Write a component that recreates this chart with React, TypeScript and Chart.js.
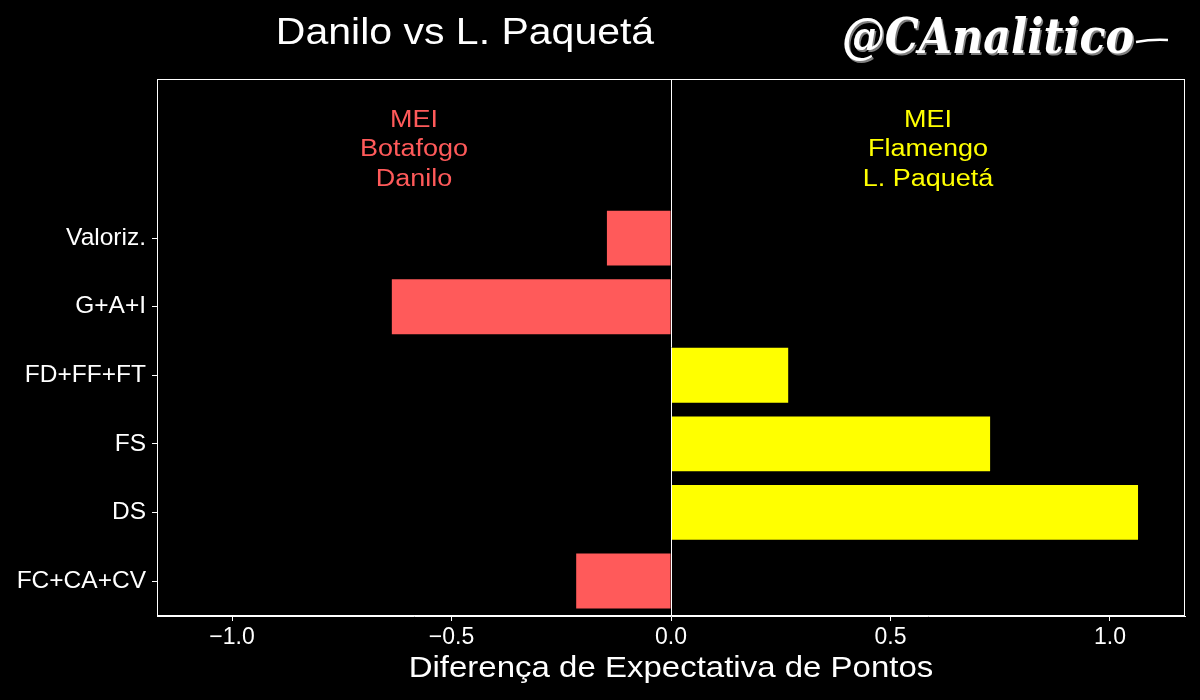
import React, { useEffect, useRef } from "react";
import { Chart, registerables } from "chart.js";

Chart.register(...registerables);

const categories = ["Valoriz.", "G+A+I", "FD+FF+FT", "FS", "DS", "FC+CA+CV"];
const diffValues = [-0.146, -0.636, 0.267, 0.727, 1.064, -0.216];
const xTickValues = [-1.0, -0.5, 0.0, 0.5, 1.0];
const titleText = "Danilo vs L. Paquetá";
const leftLabelLines = ["MEI", "Botafogo", "Danilo"];
const rightLabelLines = ["MEI", "Flamengo", "L. Paquetá"];
const xAxisTitle = "Diferença de Expectativa de Pontos";
const watermarkText = "@CAnalitico";

const X_MIN = -1.171;
const X_MAX = 1.171;
const Y_MIN = -0.51;
const Y_MAX = 7.32;

const RED = "#FF5A5A";
const YELLOW = "#FFFF00";
const FONT = "'Liberation Sans', Arial, sans-serif";

const positionOf = (i: number) => categories.length - 1 - i;

function drawSquished(ctx: CanvasRenderingContext2D, text: string, x: number, y: number, sy: number) {
  ctx.save();
  ctx.translate(x, y);
  ctx.scale(1, sy);
  ctx.fillText(text, 0, 0);
  ctx.restore();
}

const decorPlugin = {
  id: "decor",
  beforeDraw(chart: any) {
    const ctx = chart.ctx as CanvasRenderingContext2D;
    ctx.save();
    ctx.fillStyle = "#000";
    ctx.fillRect(0, 0, chart.width, chart.height);
    ctx.restore();
  },
  afterDatasetsDraw(chart: any) {
    const ctx = chart.ctx as CanvasRenderingContext2D;
    const { left, right, top, bottom } = chart.chartArea;
    const xs = chart.scales.x;
    ctx.save();
    ctx.strokeStyle = "#fff";
    ctx.lineWidth = 1;
    ctx.strokeRect(left + 0.5, top + 0.5, right - left - 1, bottom - top - 1);
    const x0 = Math.round(xs.getPixelForValue(0)) + 0.5;
    ctx.beginPath();
    ctx.moveTo(x0, top);
    ctx.lineTo(x0, bottom);
    ctx.stroke();
    ctx.restore();
  },
  afterDraw(chart: any) {
    const ctx = chart.ctx as CanvasRenderingContext2D;
    const { left, right, top, bottom } = chart.chartArea;
    const xs = chart.scales.x;
    ctx.save();
    ctx.textAlign = "center";
    ctx.textBaseline = "alphabetic";

    ctx.fillStyle = "#fff";
    ctx.font = `41px ${FONT}`;
    drawSquished(ctx, titleText, 465, 44, 0.92);

    ctx.font = `27px ${FONT}`;
    const lx = xs.getPixelForValue(X_MIN / 2);
    const rx = xs.getPixelForValue(X_MAX / 2);
    const baselines = [top + 48, top + 77.3, top + 106.5];
    ctx.fillStyle = RED;
    leftLabelLines.forEach((t, i) => drawSquished(ctx, t, lx, baselines[i], 0.92));
    ctx.fillStyle = YELLOW;
    rightLabelLines.forEach((t, i) => drawSquished(ctx, t, rx, baselines[i], 0.92));

    ctx.fillStyle = "#fff";
    ctx.font = `33px ${FONT}`;
    drawSquished(ctx, xAxisTitle, (left + right) / 2, bottom + 61, 0.92);

    ctx.textAlign = "left";
    ctx.font = `bold italic 48px 'DejaVu Serif', serif`;
    const w = ctx.measureText(watermarkText).width;
    const targetW = 292;
    ctx.save();
    ctx.translate(842, 53);
    ctx.scale(targetW / w, 1);
    ctx.fillStyle = "#fff";
    ctx.shadowColor = "rgba(160,160,160,0.8)";
    ctx.shadowOffsetX = 1.5;
    ctx.shadowOffsetY = 1.5;
    ctx.fillText(watermarkText, 0, 0);
    ctx.restore();
    ctx.strokeStyle = "#fff";
    ctx.lineWidth = 2.5;
    ctx.beginPath();
    ctx.moveTo(1136, 42);
    ctx.quadraticCurveTo(1152, 39, 1168, 40);
    ctx.stroke();

    ctx.restore();
  },
};

export default function App() {
  const canvasRef = useRef<HTMLCanvasElement | null>(null);

  useEffect(() => {
    const canvas = canvasRef.current;
    if (!canvas) return;
    const chart = new Chart(canvas, {
      type: "bar",
      data: {
        datasets: [
          {
            data: diffValues.map((v, i) => ({ x: v, y: positionOf(i) })),
            backgroundColor: diffValues.map((v) => (v < 0 ? RED : YELLOW)),
            borderWidth: 0,
            barPercentage: 0.8,
            categoryPercentage: 1,
          },
        ],
      },
      options: {
        indexAxis: "y",
        animation: false,
        responsive: false,
        maintainAspectRatio: false,
        layout: { padding: { left: 0, right: 15, top: 79, bottom: 0 } },
        plugins: {
          legend: { display: false },
          tooltip: { enabled: false },
          title: { display: false },
        },
        scales: {
          x: {
            type: "linear",
            min: X_MIN,
            max: X_MAX,
            offset: false,
            afterBuildTicks: (s: any) => {
              s.ticks = xTickValues.map((v) => ({ value: v }));
            },
            afterFit: (s: any) => {
              s.height = 84;
            },
            ticks: {
              color: "#fff",
              font: { family: FONT, size: 23 },
              padding: 3,
              autoSkip: false,
              maxRotation: 0,
              callback: (v: any) => (Number(v) < 0 ? "\u2212" : "") + Math.abs(Number(v)).toFixed(1),
            },
            grid: { drawOnChartArea: false, drawTicks: true, tickLength: 5, color: "#fff", offset: false },
            border: { display: true, color: "#fff", width: 1 },
          },
          y: {
            type: "linear",
            min: Y_MIN,
            max: Y_MAX,
            offset: false,
            afterBuildTicks: (s: any) => {
              s.ticks = categories.map((_, i) => ({ value: positionOf(i) }));
            },
            afterFit: (s: any) => {
              s.width = 157;
            },
            ticks: {
              color: "#fff",
              font: { family: FONT, size: 24.5 },
              padding: 6,
              autoSkip: false,
              callback: (v: any) => categories[categories.length - 1 - Number(v)] ?? "",
            },
            grid: { drawOnChartArea: false, drawTicks: true, tickLength: 5, color: "#fff", offset: false },
            border: { display: true, color: "#fff", width: 1 },
          },
        },
      },
      plugins: [decorPlugin],
    } as any);
    return () => chart.destroy();
  }, []);

  return (
    <div style={{ position: "fixed", left: 0, top: 0, width: 1200, height: 700, background: "#000" }}>
      <canvas ref={canvasRef} width={1200} height={700} style={{ display: "block" }} />
    </div>
  );
}
